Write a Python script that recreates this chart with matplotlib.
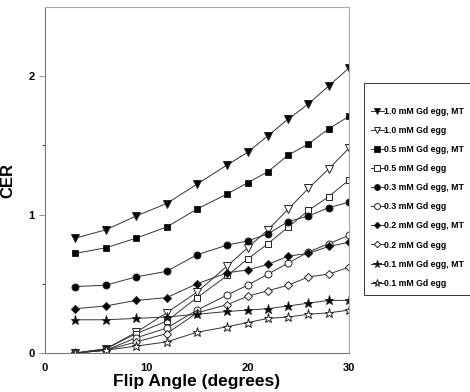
import matplotlib.pyplot as plt

flip = [3, 6, 9, 12, 15, 18, 20, 22, 24, 26, 28, 30]

cer_10_mt = [0.83, 0.89, 0.99, 1.08, 1.22, 1.36, 1.45, 1.57, 1.69, 1.80, 1.93, 2.06]
cer_10 = [0.00, 0.03, 0.15, 0.29, 0.44, 0.63, 0.76, 0.89, 1.04, 1.19, 1.33, 1.48]
cer_05_mt = [0.72, 0.76, 0.83, 0.91, 1.04, 1.15, 1.23, 1.31, 1.43, 1.51, 1.62, 1.71]
cer_05 = [0.00, 0.03, 0.14, 0.23, 0.40, 0.56, 0.68, 0.79, 0.91, 1.03, 1.13, 1.25]
cer_03_mt = [0.48, 0.49, 0.55, 0.59, 0.71, 0.78, 0.81, 0.86, 0.95, 0.99, 1.05, 1.09]
cer_03 = [0.00, 0.02, 0.11, 0.18, 0.31, 0.42, 0.49, 0.57, 0.65, 0.73, 0.79, 0.85]
cer_02_mt = [0.32, 0.34, 0.38, 0.40, 0.50, 0.58, 0.60, 0.64, 0.70, 0.72, 0.77, 0.80]
cer_02 = [0.00, 0.02, 0.08, 0.14, 0.29, 0.35, 0.41, 0.45, 0.49, 0.55, 0.57, 0.62]
cer_01_mt = [0.24, 0.24, 0.25, 0.26, 0.28, 0.30, 0.31, 0.32, 0.34, 0.36, 0.38, 0.38]
cer_01 = [0.00, 0.02, 0.05, 0.08, 0.15, 0.19, 0.22, 0.25, 0.26, 0.28, 0.29, 0.31]

series = [
    ('1.0 mM Gd egg, MT', cer_10_mt, 'v', 'black'),
    ('1.0 mM Gd egg', cer_10, 'v', 'white'),
    ('0.5 mM Gd egg, MT', cer_05_mt, 's', 'black'),
    ('0.5 mM Gd egg', cer_05, 's', 'white'),
    ('0.3 mM Gd egg, MT', cer_03_mt, 'o', 'black'),
    ('0.3 mM Gd egg', cer_03, 'o', 'white'),
    ('0.2 mM Gd egg, MT', cer_02_mt, 'D', 'black'),
    ('0.2 mM Gd egg', cer_02, 'D', 'white'),
    ('0.1 mM Gd egg, MT', cer_01_mt, '*', 'black'),
    ('0.1 mM Gd egg', cer_01, '*', 'white'),
]

plt.rcParams['font.family'] = ['Liberation Sans', 'DejaVu Sans']

fig = plt.figure(figsize=(4.7, 3.92), dpi=100)
ax = fig.add_axes([45 / 470, 1 - 353 / 392, 304 / 470, 346 / 392])

sizes = {'v': 5.5, 's': 4.6, 'o': 5.0, 'D': 3.8, '*': 6.5}
for label, vals, mk, fc in series:
    ax.plot(flip, vals, '-', color='#333333', lw=0.7, marker=mk, ms=sizes[mk],
            mfc=fc, mec='#222222', mew=0.7, label=label)

ax.set_xlim(0, 30)
ax.set_ylim(0, 2.5)
ax.set_xticks([0, 10, 20, 30])
ax.set_yticks([0, 1, 2])
ax.set_yticks([0.5, 1.5], minor=True)
ax.tick_params(axis='both', labelsize=8, width=0.6, color='#888888')
ax.tick_params(axis='y', direction='out', length=4)
ax.tick_params(axis='y', which='minor', length=2)
ax.tick_params(axis='x', direction='in', length=0, pad=7)
for t in ax.get_xticklabels() + ax.get_yticklabels():
    t.set_fontweight('bold')
for side in ['left', 'bottom']:
    ax.spines[side].set_color('#777777')
    ax.spines[side].set_linewidth(0.8)
for side in ['top', 'right']:
    ax.spines[side].set_color('#aaaaaa')
    ax.spines[side].set_linewidth(0.8)

ax.set_xlabel('Flip Angle (degrees)', fontsize=12.5, fontweight='bold', labelpad=1)
ax.set_ylabel('CER', fontsize=12, fontweight='bold')
ax.yaxis.set_label_coords(-0.098, 0.5)

leg = fig.legend(loc='upper left', bbox_to_anchor=(364 / 470, 1 - 83 / 392),
                 fontsize=6.3, frameon=True, fancybox=False, edgecolor='black',
                 handlelength=1.45, handletextpad=0.05, labelspacing=1.15,
                 borderpad=0.8, borderaxespad=0, markerscale=0.85,
                 title=' ', title_fontsize=6)
leg.get_frame().set_linewidth(0.7)
for t in leg.get_texts():
    t.set_fontweight('bold')

fig.savefig('out.png', dpi=100)
